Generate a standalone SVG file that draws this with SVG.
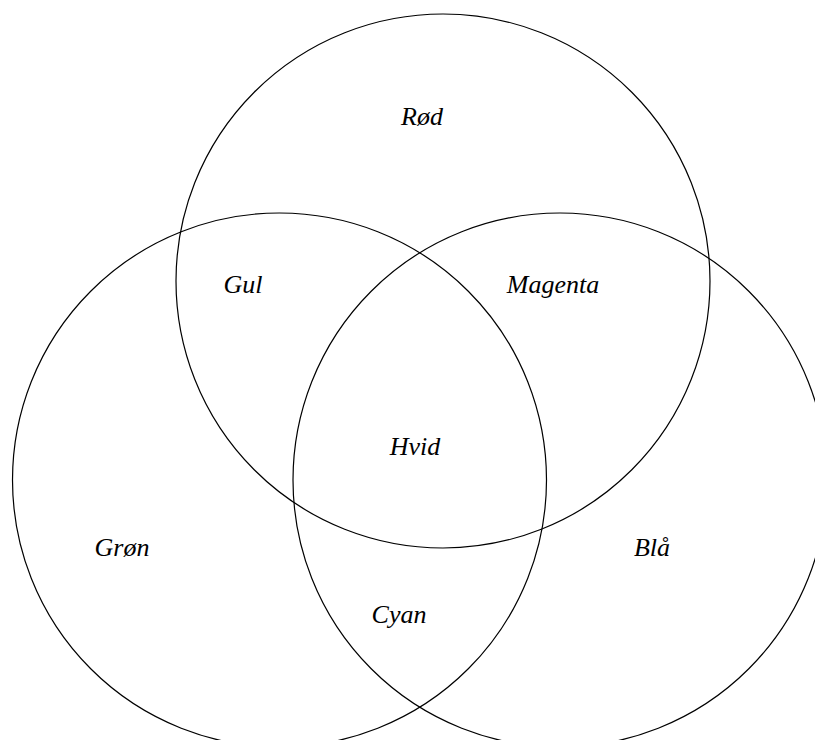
<svg xmlns="http://www.w3.org/2000/svg" width="815" height="740" viewBox="0 0 815 740">
<style>
.c{fill:none;stroke:#000;stroke-width:1.2}
.t{font-family:"Liberation Serif",serif;font-style:italic;font-size:26px;text-anchor:middle;fill:#000}
</style>
<rect width="815" height="740" fill="#fff"/>
<g id="circles">
<circle id="rod-circle" class="c" cx="443" cy="281" r="267"/>
<circle id="gron-circle" class="c" cx="279.5" cy="480" r="267"/>
<circle id="bla-circle" class="c" cx="560" cy="480" r="267"/>
</g>
<g id="labels">
<text class="t" x="422" y="125">Rød</text>
<text class="t" x="243" y="293">Gul</text>
<text class="t" x="553" y="293">Magenta</text>
<text class="t" x="415" y="455">Hvid</text>
<text class="t" x="122" y="556">Grøn</text>
<text class="t" x="652" y="556">Blå</text>
<text class="t" x="399" y="623">Cyan</text>
</g>
</svg>
